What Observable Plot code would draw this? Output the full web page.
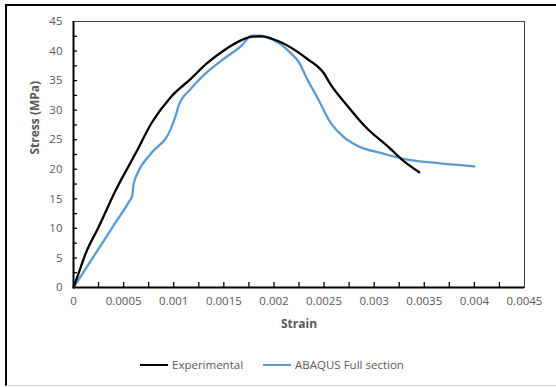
<!DOCTYPE html>
<html><head><meta charset="utf-8">
<script src="https://cdn.jsdelivr.net/npm/d3@7"></script>
<script src="https://cdn.jsdelivr.net/npm/@observablehq/plot@0.6"></script>
<style>
html,body{margin:0;padding:0;background:#fff;width:556px;height:387px;overflow:hidden;}
#border{position:absolute;left:5px;top:4px;width:560px;height:382px;box-sizing:border-box;border-left:2px solid #000;border-top:2px solid #000;border-bottom:1px solid #d9d9d9;}
#chart{position:absolute;left:0;top:0;}
#legend{position:absolute;left:140px;top:357px;display:flex;align-items:center;font-family:"Open Sans",sans-serif;font-size:11.5px;color:#595959;}
.item{display:flex;align-items:center;margin-right:20px;}
.swatch{width:28px;height:0;border-top:2.3px solid;margin-right:4px;}
</style></head>
<body>
<div id="border"></div>
<div id="chart"></div>
<div id="legend"></div>
<script>
const seriesNames = ["Experimental", "ABAQUS Full section"];
const seriesColors = ["#000000", "#5B9BD5"];

const expStrain = [0, 0.000053, 0.00012, 0.00025, 0.00042, 0.00062, 0.000785, 0.00097, 0.00117, 0.00133, 0.0015, 0.00167, 0.00177, 0.00187, 0.00207, 0.00233, 0.0025, 0.00256, 0.00273, 0.0029, 0.00316, 0.00328, 0.00345];
const expStress = [0, 2.5, 5.7, 10.2, 16.4, 22.7, 28.0, 32.2, 35.3, 37.9, 40.1, 41.8, 42.4, 42.5, 41.5, 38.7, 36.2, 34.5, 30.8, 27.4, 23.5, 21.6, 19.5];

const abqStrain = [0, 0.000253, 0.00042, 0.00055, 0.000585, 0.0006, 0.000635, 0.00077, 0.00097, 0.00102, 0.00105, 0.00117, 0.00133, 0.0015, 0.00167, 0.00178, 0.00187, 0.002, 0.00208, 0.00217, 0.00225, 0.00233, 0.00245, 0.00256, 0.0027, 0.00283, 0.0031, 0.00328, 0.00366, 0.004];
const abqStress = [0, 6.6, 11.0, 14.4, 15.5, 17.5, 19.2, 22.6, 26.8, 29.1, 30.8, 33.6, 36.4, 38.7, 40.8, 42.6, 42.6, 41.8, 41.0, 39.6, 38.1, 35.3, 31.6, 28.0, 25.4, 24.0, 22.6, 21.8, 21.0, 20.5];

const xTicks = [0, 0.0005, 0.001, 0.0015, 0.002, 0.0025, 0.003, 0.0035, 0.004, 0.0045];
const xTickLabels = ["0", "0.0005", "0.001", "0.0015", "0.002", "0.0025", "0.003", "0.0035", "0.004", "0.0045"];
const xMinorTicks = [0.00025, 0.0005, 0.00075, 0.001, 0.00125, 0.0015, 0.00175, 0.002, 0.00225, 0.0025, 0.00275, 0.003, 0.00325, 0.0035, 0.00375, 0.004, 0.00425];
const yTicks = [0, 5, 10, 15, 20, 25, 30, 35, 40, 45];
const yMinorTicks = [2.5, 5, 7.5, 10, 12.5, 15, 17.5, 20, 22.5, 25, 27.5, 30, 32.5, 35, 37.5, 40, 42.5];
const xTitle = "Strain";
const yTitle = "Stress (MPa)";

const expData = expStrain.map((x, i) => ({x, y: expStress[i]}));
const abqData = abqStrain.map((x, i) => ({x, y: abqStress[i]}));

const chart = Plot.plot({
  width: 556, height: 340,
  marginLeft: 73, marginRight: 32, marginTop: 21, marginBottom: 53,
  style: {fontFamily: "'Open Sans', sans-serif", fontSize: "11.5px", color: "#595959", background: "transparent", overflow: "visible"},
  x: {domain: [0, 0.0045]},
  y: {domain: [0, 45]},
  marks: [
    Plot.frame({stroke: "#404040", strokeWidth: 1}),
    Plot.axisX(xTicks, {tickSize: 0, tickPadding: 9, tickFormat: d => xTickLabels[xTicks.indexOf(d)], fill: "#595959", label: null}),
    Plot.axisY(yTicks, {tickSize: 0, tickPadding: 11, fill: "#595959", label: null}),
    Plot.tickX(xMinorTicks, {x: d => d, insetTop: 261, stroke: "#000", strokeWidth: 1.3}),
    Plot.tickY(yMinorTicks, {y: d => d, insetRight: 447, stroke: "#000", strokeWidth: 1.3}),
    Plot.ruleX([0], {stroke: "#000", strokeWidth: 2}),
    Plot.ruleY([0], {stroke: "#000", strokeWidth: 2}),
    Plot.line(abqData, {x: "x", y: "y", stroke: seriesColors[1], strokeWidth: 2.3, curve: "monotone-x"}),
    Plot.line(expData, {x: "x", y: "y", stroke: seriesColors[0], strokeWidth: 2.3, curve: "monotone-x"}),
    Plot.text([xTitle], {frameAnchor: "bottom", dy: 40, fontWeight: "bold", fill: "#595959", fontSize: 12}),
    Plot.text([yTitle], {frameAnchor: "left", dx: -38, rotate: -90, fontWeight: "bold", fill: "#595959", fontSize: 12})
  ]
});
document.getElementById("chart").appendChild(chart);

const legend = document.getElementById("legend");
seriesNames.forEach((name, i) => {
  const item = document.createElement("div");
  item.className = "item";
  const sw = document.createElement("div");
  sw.className = "swatch";
  sw.style.borderTopColor = seriesColors[i];
  const t = document.createElement("span");
  t.textContent = name;
  item.appendChild(sw); item.appendChild(t);
  legend.appendChild(item);
});
</script>
</body></html>
